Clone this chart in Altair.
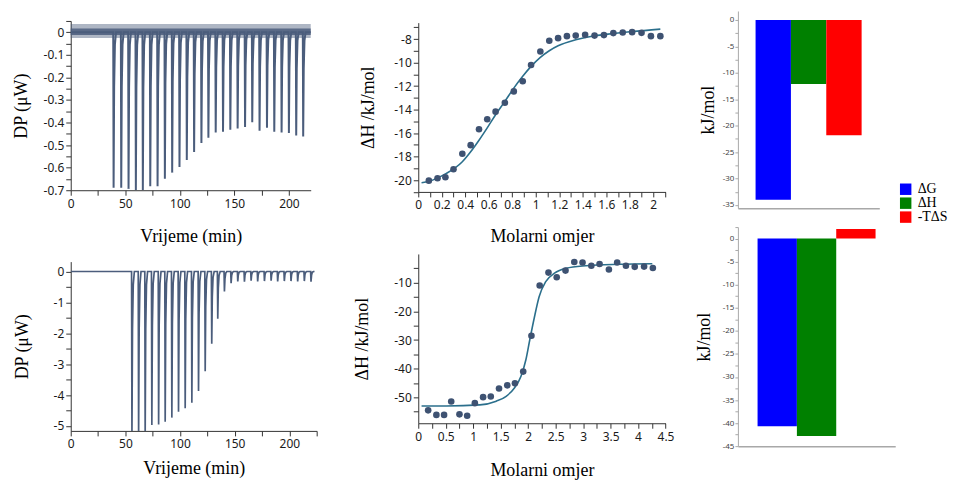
import altair as alt
import pandas as pd

# ---------------- data ----------------
# top-left thermogram: injection times (min) and peak depths (uW)
TOP_INJ_T = [39.3, 46.3, 53.0, 59.7, 66.1, 72.9, 79.6, 86.3, 93.0, 99.7, 106.4, 113.1, 119.8,
             126.2, 132.9, 139.6, 146.3, 153.0, 159.8, 166.4, 173.1, 179.9, 186.6, 193.3,
             200.0, 206.7, 213.1]
TOP_INJ_DP = [-0.689, -0.689, -0.694, -0.70, -0.70, -0.682, -0.682, -0.649, -0.622, -0.597,
              -0.566, -0.531, -0.491, -0.467, -0.444, -0.441, -0.432, -0.426, -0.420, -0.399,
              -0.436, -0.423, -0.441, -0.444, -0.446, -0.458, -0.462]
TOP_END_T = 220.0
TOP_NOISE_OUTER = [-0.026, 0.036]
TOP_NOISE_INNER = [-0.012, 0.016]

# bottom-left thermogram
BOT_INJ_T = [56.0, 62.1, 68.1, 74.2, 80.4, 86.4, 92.5, 98.6, 104.7, 110.8, 116.9, 123.0, 129.0,
             134.5, 140.6, 146.7, 152.8, 158.9, 165.0, 171.0, 177.2, 183.3, 189.3, 195.4,
             201.5, 207.6, 213.7, 219.8]
BOT_INJ_DP = [-5.3, -5.3, -5.3, -4.97, -4.95, -4.86, -4.73, -4.54, -4.43, -4.25, -3.87, -3.23,
              -2.34, -1.53, -0.65, -0.38, -0.32, -0.33, -0.30, -0.32, -0.31, -0.30, -0.32,
              -0.31, -0.31, -0.32, -0.31, -0.33]
BOT_END_T = 223.0

# shape of one injection peak (time offset, fraction of depth)
PEAK_DT = [-0.35, 0.0, 0.5, 1.2, 2.2]
PEAK_FRAC = [0.0, 1.0, 0.35, 0.08, 0.0]

# top-middle isotherm
ITC1_X = [0.09, 0.164, 0.231, 0.30, 0.375, 0.446, 0.517, 0.587, 0.658, 0.737, 0.813, 0.889,
          0.96, 1.039, 1.115, 1.19, 1.265, 1.34, 1.42, 1.50, 1.58, 1.66, 1.74, 1.82, 1.90,
          1.98, 2.06]
ITC1_Y = [-20.04, -19.84, -19.75, -19.07, -17.75, -17.02, -15.67, -14.82, -14.17, -13.41,
          -12.45, -11.58, -10.2, -9.05, -8.14, -7.92, -7.75, -7.7, -7.64, -7.7, -7.66, -7.49,
          -7.44, -7.41, -7.47, -7.75, -7.75]
FIT1_X = [0.028, 0.09, 0.231, 0.375, 0.446, 0.517, 0.587, 0.658, 0.737, 0.813, 0.889, 0.96,
          1.039, 1.115, 1.19, 1.34, 1.50, 1.66, 1.82, 2.06]
FIT1_Y = [-20.22, -20.1, -19.47, -18.43, -17.58, -16.6, -15.55, -14.43, -13.3, -12.17, -11.16,
          -10.32, -9.55, -8.99, -8.57, -8.06, -7.72, -7.53, -7.36, -7.15]

# bottom-middle isotherm
ITC2_X = [0.18, 0.33, 0.47, 0.60, 0.75, 0.89, 1.03, 1.18, 1.32, 1.47, 1.62, 1.76, 1.91, 2.06,
          2.21, 2.37, 2.52, 2.68, 2.84, 2.99, 3.15, 3.30, 3.47, 3.62, 3.78, 3.94, 4.11, 4.27]
ITC2_Y = [-54.5, -56.1, -56.1, -51.4, -55.9, -56.4, -52.0, -49.9, -49.7, -46.9, -45.8, -45.1,
          -41.0, -28.5, -11.0, -6.5, -8.1, -5.8, -2.8, -3.0, -4.1, -3.5, -5.4, -3.0, -4.1,
          -4.5, -4.4, -4.9]
FIT2_X = [0.06, 0.51, 1.12, 1.42, 1.60, 1.75, 1.87, 1.96, 2.03, 2.11, 2.20, 2.32, 2.48, 2.69,
          3.05, 3.65, 4.26]
FIT2_Y = [-53.0, -53.0, -52.6, -51.3, -49.6, -46.7, -42.6, -36.8, -29.9, -22.4, -14.9, -9.65,
          -6.7, -5.0, -4.1, -3.6, -3.4]

# thermodynamic signatures (kJ/mol)
TERMS = ["ΔG", "ΔH", "-TΔS"]
TOP_BARS = [-34.0, -12.1, -21.8]
BOT_BARS = [-40.7, -42.8, 2.1]
BAR_COLORS = ["#0000ff", "#008000", "#ff0000"]

# ---------------- styling ----------------
LABEL_FONT = "Noto Sans"
TITLE_FONT = "Liberation Serif"
LINE_COL = "#4b5d7c"
PT_COL = "#3e5272"
FIT_COL = "#2b6f8c"
AX_COL = "#333333"

COL1_W = 349
COL2_W = 320.5


def thermogram(ts, dps, end):
    rows = [(0.0, 0.0)]
    for t, d in zip(ts, dps):
        for dt, f in zip(PEAK_DT, PEAK_FRAC):
            rows.append((t + dt, d * f))
    rows.append((end, 0.0))
    return pd.DataFrame(rows, columns=["t", "dp"])


def tick_vals(lo, hi, step):
    n = int(round((hi - lo) / step))
    return [round(lo + i * step, 6) for i in range(n + 1)]


def lab_expr(step):
    return ("abs(datum.value / %s - round(datum.value / %s)) < 0.001 ? "
            "replace(datum.label, '\u2212', '-') : ''" % (step, step))


def axis(values, step, title, title_pad, extent, orient, size=12, tick=5, lpad=2,
         dom=AX_COL, lab_col="#1a1a1a", tsize=18):
    return alt.Axis(values=values, format="~f", labelExpr=lab_expr(step), orient=orient,
                    tickSize=tick, labelPadding=lpad, labelFont=LABEL_FONT,
                    labelFontSize=size, labelColor=lab_col, domainColor=dom,
                    tickColor=dom, title=title, titleFont=TITLE_FONT, titleFontSize=tsize,
                    titleFontWeight="normal", titleColor="#000000", titlePadding=title_pad,
                    minExtent=extent, maxExtent=extent, grid=False, labelFlush=False,
                    labelOverlap=False)


# ---------------- top-left ----------------
tl_x = alt.X("t:Q", scale=alt.Scale(domain=[0, 220], range=[0, 241], nice=False),
             axis=axis(tick_vals(0, 200, 25), 50, "Vrijeme (min)", 17, 20, "bottom", lpad=3))
tl_y = alt.Y("dp:Q", scale=alt.Scale(domain=[-0.7, 0.05], range=[180, 10], nice=False, zero=False),
             axis=axis(tick_vals(-0.7, 0.05, 0.05), 0.1, "DP (μW)", 10, 30, "left"))
outer_df = pd.DataFrame({"t": [0.0, TOP_END_T], "dp": [TOP_NOISE_OUTER[0]] * 2,
                         "hi": [TOP_NOISE_OUTER[1]] * 2})
inner_df = pd.DataFrame({"t": [0.0, TOP_END_T], "dp": [TOP_NOISE_INNER[0]] * 2,
                         "hi": [TOP_NOISE_INNER[1]] * 2})
tl_band1 = alt.Chart(outer_df).mark_area(color=LINE_COL, opacity=0.45).encode(x=tl_x, y=tl_y, y2="hi:Q")
tl_band2 = alt.Chart(inner_df).mark_area(color=LINE_COL, opacity=0.85).encode(x=tl_x, y=tl_y, y2="hi:Q")
tl_line = alt.Chart(thermogram(TOP_INJ_T, TOP_INJ_DP, TOP_END_T)).mark_line(
    color=LINE_COL, strokeWidth=2, clip=True).encode(x=tl_x, y=tl_y)
TL = alt.layer(tl_band1, tl_band2, tl_line).properties(width=COL1_W, height=180)

# ---------------- bottom-left ----------------
bl_x = alt.X("t:Q", scale=alt.Scale(domain=[0, 225], range=[0, 247], nice=False),
             axis=axis(tick_vals(0, 225, 25), 50, "Vrijeme (min)", 9, 20, "bottom", lpad=3))
bl_y = alt.Y("dp:Q", scale=alt.Scale(domain=[-5.16, 0.32], range=[223.7, 53.7], nice=False, zero=False),
             axis=axis(tick_vals(-5, 0, 0.5), 1, "DP (μW)", 9.5, 30, "left"))
BL = alt.Chart(thermogram(BOT_INJ_T, BOT_INJ_DP, BOT_END_T)).mark_line(
    color=LINE_COL, strokeWidth=1.7, clip=True).encode(x=bl_x, y=bl_y).properties(width=COL1_W, height=223.7)

# ---------------- top-middle ----------------
tm_x = alt.X("x:Q", scale=alt.Scale(domain=[0, 2.104], range=[0, 248.3], nice=False),
             axis=axis(tick_vals(0, 2.1, 0.1), 0.2, "Molarni omjer", 16, 20, "bottom", lpad=3))
tm_y = alt.Y("y:Q", scale=alt.Scale(domain=[-21, -6.6], range=[181.7, 11.7], nice=False, zero=False),
             axis=axis(tick_vals(-21, -7, 1), 2, "ΔH /kJ/mol", 11, 30, "left"))
tm_pts = alt.Chart(pd.DataFrame({"x": ITC1_X, "y": ITC1_Y})).mark_circle(
    size=44, color=PT_COL, opacity=1).encode(x=tm_x, y=tm_y)
tm_fit = alt.Chart(pd.DataFrame({"x": FIT1_X, "y": FIT1_Y})).mark_line(
    color=FIT_COL, strokeWidth=1.6, interpolate="monotone").encode(x=tm_x, y=tm_y)
TM = alt.layer(tm_fit, tm_pts).properties(width=COL2_W, height=181.7)

# ---------------- bottom-middle ----------------
bm_x = alt.X("x:Q", scale=alt.Scale(domain=[0, 4.5], range=[0, 248.3], nice=False),
             axis=axis(tick_vals(0, 4.5, 0.25), 0.5, "Molarni omjer", 18, 20, "bottom", lpad=3))
bm_y = alt.Y("y:Q", scale=alt.Scale(domain=[-59, 0], range=[216, 46], nice=False, zero=False),
             axis=axis(tick_vals(-55, -5, 5), 10, "ΔH /kJ/mol", 17, 30, "left"))
bm_pts = alt.Chart(pd.DataFrame({"x": ITC2_X, "y": ITC2_Y})).mark_circle(
    size=44, color=PT_COL, opacity=1).encode(x=bm_x, y=bm_y)
bm_fit = alt.Chart(pd.DataFrame({"x": FIT2_X, "y": FIT2_Y})).mark_line(
    color=FIT_COL, strokeWidth=1.6, interpolate="monotone").encode(x=bm_x, y=bm_y)
BM = alt.layer(bm_fit, bm_pts).properties(width=COL2_W, height=216)

# ---------------- bar charts ----------------
bar_x_axis = alt.Axis(labels=False, ticks=False, title=None, domainColor="#a8a8a8", domainWidth=1.5)


def bar_chart(values, domain, rng, tvals, height, width, title_pad, legend):
    df = pd.DataFrame({"term": TERMS, "value": values})
    col = alt.Color("term:N", scale=alt.Scale(domain=TERMS, range=BAR_COLORS), legend=legend)
    return alt.Chart(df).mark_bar().encode(
        x=alt.X("term:N", sort=TERMS, scale=alt.Scale(domain=TERMS, paddingInner=0, paddingOuter=0.5),
                axis=bar_x_axis),
        y=alt.Y("value:Q", scale=alt.Scale(domain=domain, range=rng, nice=False),
                axis=axis(tvals, 5, "kJ/mol", title_pad, 16, "left", size=8, tick=3, lpad=1,
                          dom="#a8a8a8", lab_col="#444444")),
        color=col,
    ).properties(width=width, height=height)


legend = alt.Legend(orient="none", legendX=161.5, legendY=172, title=None, symbolType="square",
                    symbolSize=132, symbolStrokeWidth=0, symbolOpacity=1, labelFont=TITLE_FONT,
                    labelFontSize=14, labelColor="#000000", labelOffset=5, rowPadding=0, padding=0)
TR = bar_chart(TOP_BARS, [-35.6, 1.7], [198, 0], tick_vals(-35, 0, 2.5), 198, 142, 5, legend)
BR = bar_chart(BOT_BARS, [-45, 2.5], [239, 19], tick_vals(-45, 2.5, 2.5), 239, 158, 8.5, None)

chart = alt.concat(TL, TM, TR, BL, BM, BR, columns=3, spacing=0, align="each", bounds="flush").properties(
    padding={"left": 5, "top": 2, "right": 0, "bottom": 0}
).resolve_scale(color="independent").configure_view(stroke=None)

chart.save("out.html", embed_options={"renderer": "svg", "actions": False})
